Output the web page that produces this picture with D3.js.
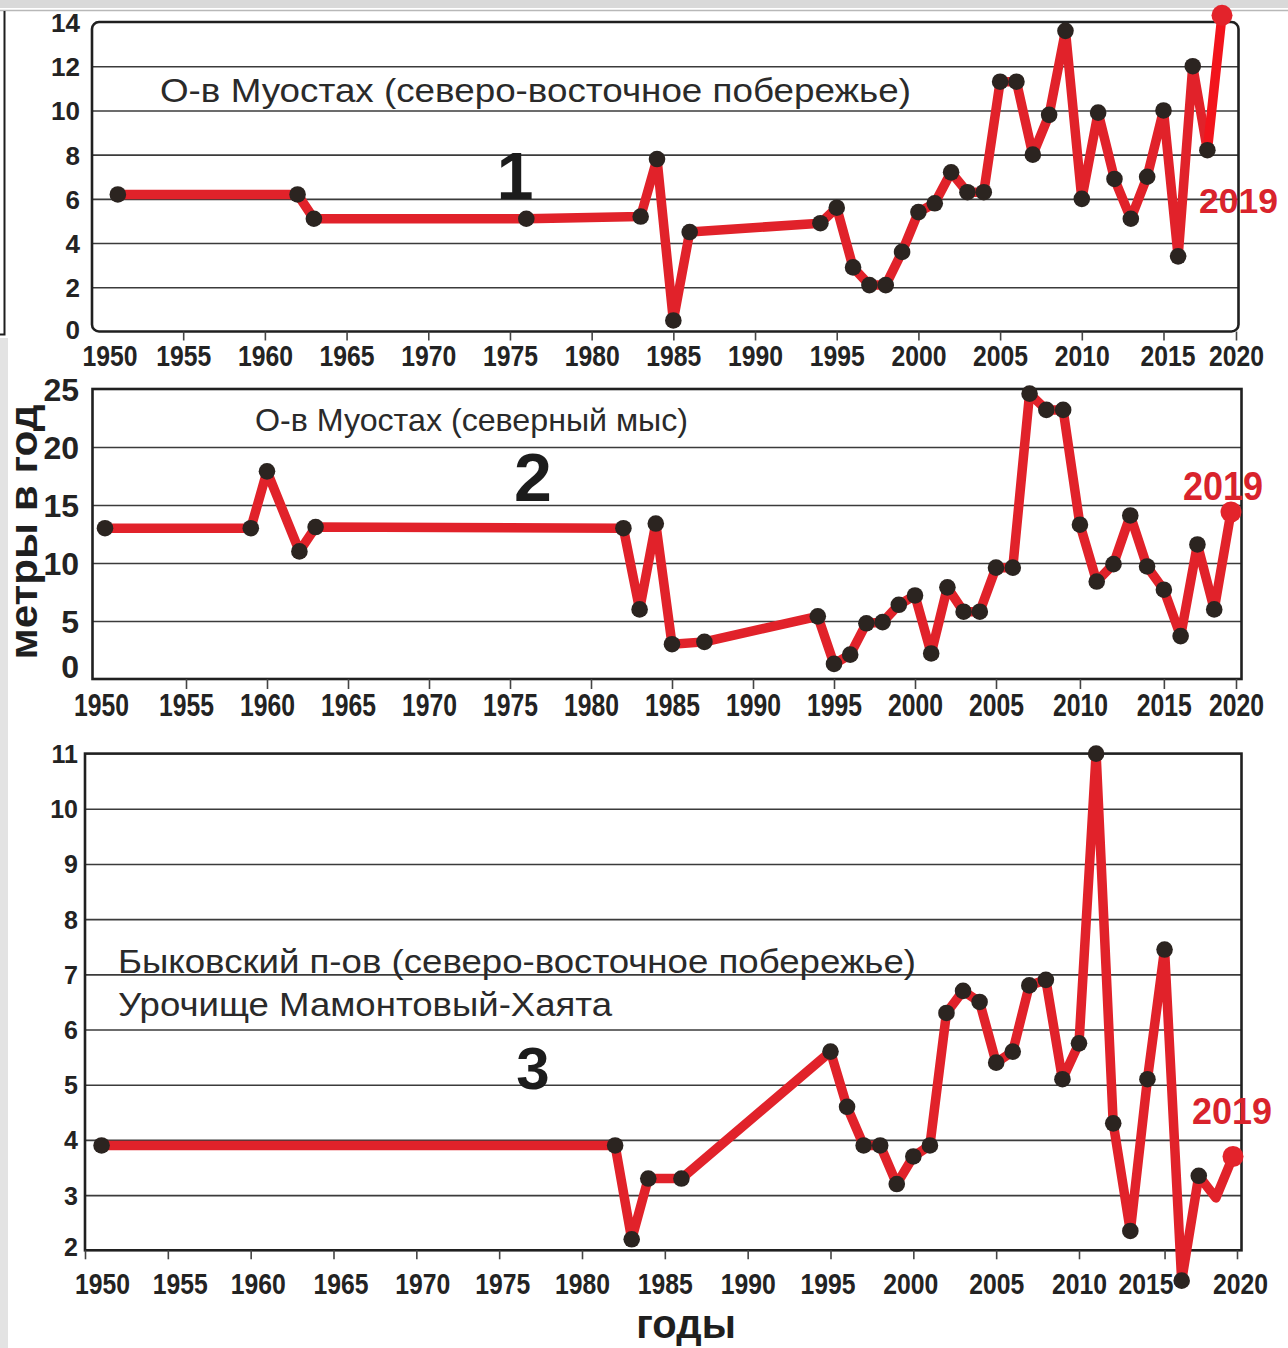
<!DOCTYPE html>
<html>
<head>
<meta charset="utf-8">
<script src="https://cdn.jsdelivr.net/npm/d3@7/dist/d3.min.js"></script>
<style>
  html, body { margin: 0; padding: 0; background: #ffffff; }
  svg { display: block; }
</style>
</head>
<body>
<svg id="chart" width="1288" height="1348"></svg>
<script>
// ---------- Data ----------
// 1: Muostakh Island, north-eastern coast (m/yr)
const p1Years  = [1951, 1962, 1963, 1976, 1983, 1984, 1985, 1986, 1994, 1995, 1996, 1997, 1998, 1999,
                  2000, 2001, 2002, 2003, 2004, 2005, 2006, 2007, 2008, 2009, 2010, 2011, 2012, 2013,
                  2014, 2015, 2016, 2017, 2018, 2019];
const p1Values = [6.2, 6.2, 5.1, 5.1, 5.2, 7.8, 0.5, 4.5, 4.9, 5.6, 2.9, 2.1, 2.1, 3.6,
                  5.4, 5.8, 7.2, 6.3, 6.3, 11.3, 11.3, 8.0, 9.8, 13.6, 6.0, 9.9, 6.9, 5.1,
                  7.0, 10.0, 3.4, 12.0, 8.2, 14.3];
const p1YTicks = [0, 2, 4, 6, 8, 10, 12, 14];
const p1Grid   = [2, 4, 6, 8, 10, 12];

// 2: Muostakh Island, northern cape (m/yr)
const p2Years  = [1950, 1959, 1960, 1962, 1963, 1982, 1983, 1984, 1985, 1987, 1994, 1995, 1996, 1997,
                  1998, 1999, 2000, 2001, 2002, 2003, 2004, 2005, 2006, 2007, 2008, 2009, 2010, 2011,
                  2012, 2013, 2014, 2015, 2016, 2017, 2018, 2019];
const p2Values = [13.0, 13.0, 17.9, 11.0, 13.1, 13.0, 6.0, 13.4, 3.0, 3.2, 5.4, 1.3, 2.1, 4.8,
                  4.9, 6.4, 7.2, 2.2, 7.9, 5.8, 5.8, 9.6, 9.6, 24.6, 23.2, 23.2, 13.3, 8.4,
                  9.9, 14.1, 9.7, 7.7, 3.7, 11.6, 6.0, 14.4];
const p2YTicks = [0, 5, 10, 15, 20, 25];
const p2Grid   = [5, 10, 15, 20];

// 3: Bykovsky Peninsula, north-eastern coast, Mamontovy Khayata (m/yr)
const p3Years  = [1951, 1982, 1983, 1984, 1986, 1995, 1996, 1997, 1998, 1999, 2000, 2001, 2002, 2003,
                  2004, 2005, 2006, 2007, 2008, 2009, 2010, 2011, 2012, 2013, 2014, 2015, 2016, 2017,
                  2018, 2019];
const p3Values = [3.9, 3.9, 2.2, 3.3, 3.3, 5.6, 4.6, 3.9, 3.9, 3.2, 3.7, 3.9, 6.3, 6.7,
                  6.5, 5.4, 5.6, 6.8, 6.9, 5.1, 5.75, 11.0, 4.3, 2.35, 5.1, 7.45, 1.45, 3.35,
                  2.95, 3.7];
const p3NoMarker = [2018];
const p3YTicks = [2, 3, 4, 5, 6, 7, 8, 9, 10, 11];
const p3Grid   = [3, 4, 5, 6, 7, 8, 9, 10];

const xTickYears = [1950, 1955, 1960, 1965, 1970, 1975, 1980, 1985, 1990, 1995, 2000, 2005, 2010, 2015, 2020];

const panelTitles = [
  ["О-в Муостах (северо-восточное побережье)"],
  ["О-в Муостах (северный мыс)"],
  ["Быковский п-ов (северо-восточное побережье)", "Урочище Мамонтовый-Хаята"]
];
const panelNumbers = ["1", "2", "3"];
const lastYearLabel = "2019";
const yAxisTitle = "метры в год";
const xAxisTitle = "годы";

// ---------- Styling ----------
const RED = "#e1222a";
const RED_DOT = "#e3232b";
const DOT = "#2b2420";
const INK = "#232323";
const fontNarrow = "'Liberation Sans Narrow','Arial Narrow','Liberation Sans',Arial,sans-serif";
const fontSans = "'Liberation Sans',Arial,Helvetica,sans-serif";

const svg = d3.select("#chart");

// page edge strips around the figure
svg.append("rect").attr("x", 0).attr("y", 0).attr("width", 1288).attr("height", 8).attr("fill", "#d9d9d9");
svg.append("line").attr("x1", 0).attr("x2", 1288).attr("y1", 10.5).attr("y2", 10.5)
  .attr("stroke", "#b8b8b8").attr("stroke-width", 1.5);
svg.append("rect").attr("x", 0).attr("y", 338).attr("width", 8).attr("height", 1010).attr("fill", "#e3e3e3");
svg.append("path").attr("d", "M4.5,11 V334.5 H0").attr("fill", "none")
  .attr("stroke", "#1e1e1e").attr("stroke-width", 2);

// ---------- Panel layouts ----------
const panels = [
  {
    years: p1Years, values: p1Values, yTicks: p1YTicks, grid: p1Grid, noMarker: [],
    left: 92, right: 1238.5, top: 22, bottom: 331.5, rx: 7,
    yDomain: [0, 14],
    xDomain: [1950, 2015, 2019, 2020], xRange: [101.5, 1163.5, 1222, 1236],
    labelNudge: { 1950: 8, 2015: 4 },
    yLabelX: 80, yFontFamily: fontSans, yFontSize: 26,
    xLabelBaseline: 366, xFontSize: 30, tickLen: 9,
    titleX: 160, titleBaselines: [101.5], titleSize: 33, titleLens: [751],
    numX: 515, numBaseline: 199, numSize: 66,
    lblX: 1199, lblBaseline: 213, lblSize: 35, lblLen: 79,
    lastSegColor: "#f2141c", minLabelDy: -2
  },
  {
    years: p2Years, values: p2Values, yTicks: p2YTicks, grid: p2Grid, noMarker: [],
    left: 92.5, right: 1241.5, top: 389, bottom: 679, rx: 0,
    yDomain: [0, 25],
    xDomain: [1950, 2005, 2019, 2020], xRange: [105, 996, 1231, 1236],
    labelNudge: { 1950: -4 },
    yLabelX: 79, yFontFamily: fontNarrow, yFontSize: 32,
    xLabelBaseline: 716, xFontSize: 31, tickLen: 10,
    titleX: 255, titleBaselines: [431], titleSize: 32, titleLens: [433],
    numX: 533, numBaseline: 501, numSize: 68,
    lblX: 1183, lblBaseline: 500, lblSize: 40, lblLen: 80,
    lastSegColor: null, minLabelDy: -13
  },
  {
    years: p3Years, values: p3Values, yTicks: p3YTicks, grid: p3Grid, noMarker: p3NoMarker,
    left: 85, right: 1241.5, top: 753.6, bottom: 1250.3, rx: 0,
    yDomain: [2, 11],
    xDomain: [1950, 2010, 2019, 2020], xRange: [85, 1079, 1233, 1237],
    labelNudge: { 1950: 17, 1955: 12, 1960: 7, 1965: 7, 1970: 6, 1975: 3, 1995: -3, 2000: -3, 2015: -19, 2020: 3 },
    yLabelX: 78, yFontFamily: fontSans, yFontSize: 25,
    xLabelBaseline: 1294, xFontSize: 29, tickLen: 9,
    titleX: 118, titleBaselines: [972.5, 1015.5], titleSize: 33, titleLens: [798, 494],
    numX: 533, numBaseline: 1089, numSize: 60,
    lblX: 1192, lblBaseline: 1124, lblSize: 36, lblLen: 80,
    lastSegColor: null, minLabelDy: -4
  }
];

panels.forEach((cfg, i) => {
  const x = d3.scaleLinear().domain(cfg.xDomain).range(cfg.xRange);
  const y = d3.scaleLinear().domain(cfg.yDomain).range([cfg.bottom, cfg.top]);
  const w = cfg.right - cfg.left;
  const g = svg.append("g").attr("class", "panel panel-" + (i + 1));

  // horizontal grid lines
  g.append("g")
    .attr("transform", `translate(${cfg.left},0)`)
    .call(d3.axisLeft(y).tickValues(cfg.grid).tickSize(-w).tickFormat(""))
    .call(a => a.select(".domain").remove())
    .call(a => a.selectAll("line").attr("stroke", "#3b3b3b").attr("stroke-width", 1.6));

  // plot frame
  g.append("rect")
    .attr("x", cfg.left).attr("y", cfg.top)
    .attr("width", w).attr("height", cfg.bottom - cfg.top)
    .attr("rx", cfg.rx).attr("ry", cfg.rx)
    .attr("fill", "none").attr("stroke", "#202020").attr("stroke-width", 2.6);

  // y axis labels
  const ya = g.append("g")
    .attr("transform", `translate(${cfg.yLabelX},0)`)
    .call(d3.axisLeft(y).tickValues(cfg.yTicks).tickSize(0).tickPadding(0).tickFormat(d3.format("d")));
  ya.select(".domain").remove();
  ya.selectAll("text")
    .attr("x", 0).attr("dy", "0.36em")
    .attr("text-anchor", "end")
    .attr("font-family", cfg.yFontFamily).attr("font-weight", "bold")
    .attr("font-size", cfg.yFontSize).attr("fill", INK);
  ya.selectAll(".tick").filter(d => d === cfg.yDomain[0]).select("text")
    .attr("transform", `translate(0,${cfg.minLabelDy})`);

  // x axis ticks and year labels
  const xa = g.append("g")
    .attr("transform", `translate(0,${cfg.bottom})`)
    .call(d3.axisBottom(x).tickValues(xTickYears).tickSize(cfg.tickLen).tickFormat(d3.format("d")));
  xa.select(".domain").remove();
  xa.selectAll("line").attr("stroke", "#444").attr("stroke-width", 1.6);
  xa.selectAll(".tick").filter(d => d === 1950 && i < 2).select("line").remove();
  xa.selectAll("text")
    .attr("x", d => cfg.labelNudge[d] || 0)
    .attr("y", cfg.xLabelBaseline - cfg.bottom).attr("dy", 0)
    .attr("font-family", fontNarrow).attr("font-weight", "bold")
    .attr("font-size", cfg.xFontSize).attr("fill", INK)
    .attr("textLength", 55).attr("lengthAdjust", "spacingAndGlyphs");

  // site title
  panelTitles[i].forEach((t, k) => {
    g.append("text")
      .attr("x", cfg.titleX).attr("y", cfg.titleBaselines[k])
      .attr("font-family", fontSans).attr("font-size", cfg.titleSize)
      .attr("fill", "#2a2a2a")
      .attr("textLength", cfg.titleLens[k]).attr("lengthAdjust", "spacingAndGlyphs")
      .text(t);
  });

  // panel number
  g.append("text")
    .attr("x", cfg.numX).attr("y", cfg.numBaseline)
    .attr("text-anchor", "middle")
    .attr("font-family", fontSans).attr("font-weight", "bold")
    .attr("font-size", cfg.numSize).attr("fill", "#1c1c1c")
    .text(panelNumbers[i]);

  // series
  const pts = cfg.years.map((yr, k) => ({ year: yr, value: cfg.values[k] }));
  const line = d3.line().x(d => x(d.year)).y(d => y(d.value));
  const body = cfg.lastSegColor ? pts.slice(0, -1) : pts;
  g.append("path")
    .datum(body)
    .attr("d", line)
    .attr("fill", "none").attr("stroke", RED).attr("stroke-width", 9.5)
    .attr("stroke-linejoin", "round").attr("stroke-linecap", "round");
  if (cfg.lastSegColor) {
    g.append("path")
      .datum(pts.slice(-2))
      .attr("d", line)
      .attr("fill", "none").attr("stroke", cfg.lastSegColor).attr("stroke-width", 9.5)
      .attr("stroke-linecap", "round");
  }

  const last = pts[pts.length - 1];
  g.selectAll("circle.obs")
    .data(pts.slice(0, -1).filter(d => !cfg.noMarker.includes(d.year)))
    .join("circle")
    .attr("class", "obs")
    .attr("cx", d => x(d.year)).attr("cy", d => y(d.value))
    .attr("r", 8.3).attr("fill", DOT);

  g.append("circle")
    .attr("cx", x(last.year)).attr("cy", y(last.value))
    .attr("r", 10.5).attr("fill", RED_DOT);

  g.append("text")
    .attr("x", cfg.lblX).attr("y", cfg.lblBaseline)
    .attr("font-family", fontSans).attr("font-weight", "bold")
    .attr("font-size", cfg.lblSize).attr("fill", "#d9232c")
    .attr("textLength", cfg.lblLen).attr("lengthAdjust", "spacingAndGlyphs")
    .text(lastYearLabel);
});

// shared axis titles
svg.append("text")
  .attr("transform", "translate(37,532) rotate(-90)")
  .attr("text-anchor", "middle")
  .attr("font-family", fontSans).attr("font-weight", "bold")
  .attr("font-size", 38).attr("fill", "#1f1f1f")
  .attr("textLength", 255).attr("lengthAdjust", "spacingAndGlyphs")
  .text(yAxisTitle);

svg.append("text")
  .attr("x", 686).attr("y", 1338)
  .attr("text-anchor", "middle")
  .attr("font-family", fontSans).attr("font-weight", "bold")
  .attr("font-size", 40).attr("fill", "#1f1f1f")
  .text(xAxisTitle);
</script>
</body>
</html>
